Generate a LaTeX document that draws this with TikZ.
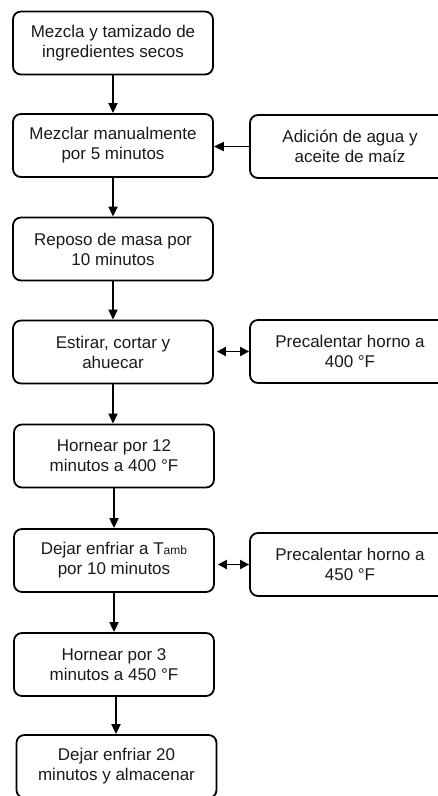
\documentclass[tikz,border=0pt]{standalone}
\usepackage{fontspec}
\setmainfont{Liberation Sans}
\usetikzlibrary{arrows.meta}
\definecolor{txt}{HTML}{1A1A1A}
\begin{document}
\begin{tikzpicture}[x=1pt,y=-1pt,
  box/.style={draw=black,line width=1.8pt,rounded corners=8pt,minimum width=200pt,minimum height=63pt,
    inner sep=0pt,align=center,text=txt,font=\fontsize{17}{20}\selectfont},
  conn/.style={line width=1.8pt,-{Triangle[length=10pt,width=9pt]}},
  dconn/.style={line width=1.8pt,{Triangle[length=9pt,width=9pt]}-{Triangle[length=9pt,width=9pt]}}]
\useasboundingbox (0,0) rectangle (437,796);
\node[box] (b1) at (113,43) {Mezcla y tamizado de\\ingredientes secos};
\node[box] (b2) at (113,145.5) {Mezclar manualmente\\por 5 minutos};
\node[box] (b3) at (113,249) {Reposo de masa por\\10 minutos};
\node[box] (b4) at (113,352) {Estirar, cortar y\\ahuecar};
\node[box] (b5) at (114,456) {Hornear por 12\\minutos a 400 °F};
\node[box] (b6) at (114,560.5) {Dejar enfriar a T{\fontsize{12}{12}\selectfont amb}\\por 10 minutos};
\node[box] (b7) at (114,664.5) {Hornear por 3\\minutos a 450 °F};
\node[box] (b8) at (116.5,766.5) {Dejar enfriar 20\\minutos y almacenar};
\node[box] (r1) at (350,146.5) {Adición de agua y\\aceite de maíz};
\node[box] (r2) at (350,351.5) {Precalentar horno a\\400 °F};
\node[box] (r3) at (350,564.5) {Precalentar horno a\\450 °F};
\draw[conn] (b1.south) -- (b1.south |- b2.north);
\draw[conn] (b2.south) -- (b2.south |- b3.north);
\draw[conn] (b3.south) -- (b3.south |- b4.north);
\draw[conn] (b4.south) -- (b4.south |- b5.north);
\draw[conn] (b5.south) -- (b5.south |- b6.north);
\draw[conn] (b6.south) -- (b6.south |- b7.north);
\draw[conn] ([xshift=2pt]b7.south) -- ([xshift=2pt]b7.south |- b8.north);
\draw[conn] (r1.west) -- (b2.east |- r1.west);
\draw[dconn] ([xshift=3pt]b4.east |- r2.west) -- (r2.west);
\draw[dconn] ([xshift=3pt]b6.east |- r3.west) -- (r3.west);
\end{tikzpicture}
\end{document}
